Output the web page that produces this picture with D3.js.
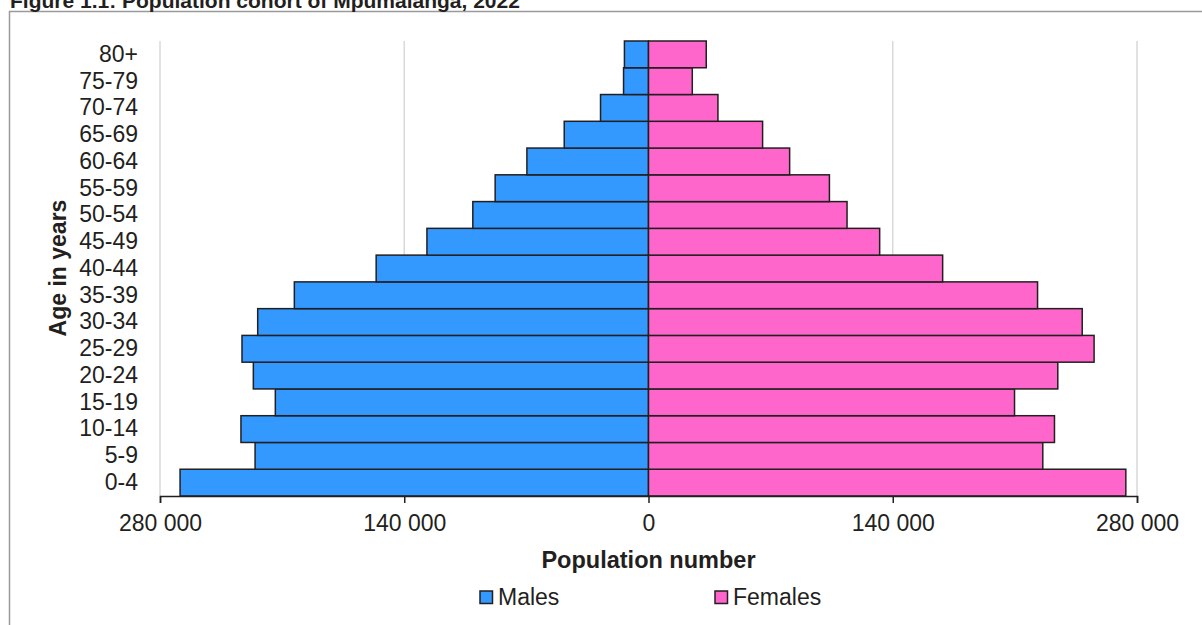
<!DOCTYPE html>
<html>
<head>
<meta charset="utf-8">
<script src="https://cdn.jsdelivr.net/npm/d3@7"></script>
<style>
  html, body { margin: 0; padding: 0; background: #fff; }
  svg { display: block; }
  text { font-family: "Liberation Sans", Arial, sans-serif; fill: #231f20; }
</style>
</head>
<body>
<svg id="chart" width="1202" height="625"></svg>
<script>
// ---- data ----
const ageGroups = ["0-4","5-9","10-14","15-19","20-24","25-29","30-34","35-39","40-44","45-49","50-54","55-59","60-64","65-69","70-74","75-79","80+"];
const males   = [268500, 225500, 233600, 213900, 226500, 233000, 224000, 203000, 156100, 127000, 100700, 87900, 69700, 48300, 27500, 14300, 13800];
const females = [273600, 226000, 232700, 209800, 234600, 255400, 248600, 223000, 168600, 132500, 113800, 103700, 80900, 65400, 39800, 25100, 33100];
const tickValues = [-280000, -140000, 0, 140000, 280000];
const seriesNames = ["Males", "Females"];
const titleText = "Figure 1.1: Population cohort of Mpumalanga, 2022";
const xTitle = "Population number";
const yTitle = "Age in years";

// ---- layout ----
const svg = d3.select("#chart");
const colors = { Males: "#3399ff", Females: "#ff66cc" };
const strokeCol = "#231f20";
const plot = { left: 160, right: 1137, top: 41, bottom: 496 };

// frame + title
svg.append("rect").attr("x", 9.5).attr("y", 11.5).attr("width", 1220).attr("height", 640)
  .attr("fill", "none").attr("stroke", "#9a9a9a").attr("stroke-width", 1.5);
svg.append("text").attr("x", 10).attr("y", 7.5).attr("font-size", 21).attr("font-weight", "bold")
  .text(titleText);

const x = d3.scaleLinear().domain([-280000, 280000]).range([plot.left, plot.right]);
const y = d3.scaleBand().domain(ageGroups.slice().reverse()).range([plot.top, plot.bottom]).padding(0);

const locale = d3.formatLocale({ decimal: ".", thousands: " ", grouping: [3], currency: ["", ""] });
const fmt = locale.format(",d");

// gridlines
svg.append("g").selectAll("line").data(tickValues.filter(d => d !== 0)).join("line")
  .attr("x1", d => x(d)).attr("x2", d => x(d))
  .attr("y1", plot.top).attr("y2", plot.bottom)
  .attr("stroke", "#d9d9d9").attr("stroke-width", 1.5);

// bars
const rows = ageGroups.map((a, i) => ({ age: a, m: males[i], f: females[i] }));
const gBars = svg.append("g");
gBars.selectAll("rect.m").data(rows).join("rect").attr("class", "m")
  .attr("x", d => x(-d.m)).attr("width", d => x(0) - x(-d.m))
  .attr("y", d => y(d.age)).attr("height", y.bandwidth())
  .attr("fill", colors.Males).attr("stroke", strokeCol).attr("stroke-width", 1.5);
gBars.selectAll("rect.f").data(rows).join("rect").attr("class", "f")
  .attr("x", x(0)).attr("width", d => x(d.f) - x(0))
  .attr("y", d => y(d.age)).attr("height", y.bandwidth())
  .attr("fill", colors.Females).attr("stroke", strokeCol).attr("stroke-width", 1.5);

// x axis
const xAxis = d3.axisBottom(x).tickValues(tickValues).tickSize(7).tickPadding(12)
  .tickFormat(d => fmt(Math.abs(d)));
const gx = svg.append("g").attr("transform", `translate(0,${plot.bottom})`).call(xAxis);
gx.select(".domain").attr("stroke", strokeCol).attr("stroke-width", 1.5);
gx.selectAll(".tick line").attr("stroke", strokeCol).attr("stroke-width", 1.5);
gx.selectAll(".tick text").attr("font-size", 23).attr("font-family", "Liberation Sans, Arial, sans-serif").attr("fill", "#231f20");

// y labels
const yAxis = d3.axisLeft(y).tickSize(0).tickPadding(0);
const gy = svg.append("g").attr("transform", `translate(${plot.left - 22},0)`).call(yAxis);
gy.select(".domain").remove();
gy.selectAll(".tick text").attr("font-size", 23).attr("font-family", "Liberation Sans, Arial, sans-serif").attr("fill", "#231f20");

// axis titles
svg.append("text").attr("x", x(0)).attr("y", 568).attr("text-anchor", "middle")
  .attr("font-size", 23.5).attr("font-weight", "bold").text(xTitle);
svg.append("text").attr("transform", "translate(66,268) rotate(-90)").attr("text-anchor", "middle")
  .attr("font-size", 23).attr("font-weight", "bold").text(yTitle);

// legend
const legendItems = [{ name: seriesNames[0], sx: 480, tx: 498 }, { name: seriesNames[1], sx: 715, tx: 733 }];
const gl = svg.append("g");
gl.selectAll("rect").data(legendItems).join("rect")
  .attr("x", d => d.sx).attr("y", 591).attr("width", 12.5).attr("height", 12.5)
  .attr("fill", d => colors[d.name]).attr("stroke", strokeCol).attr("stroke-width", 1.5);
gl.selectAll("text").data(legendItems).join("text")
  .attr("x", d => d.tx).attr("y", 605).attr("font-size", 23).text(d => d.name);
</script>
</body>
</html>
